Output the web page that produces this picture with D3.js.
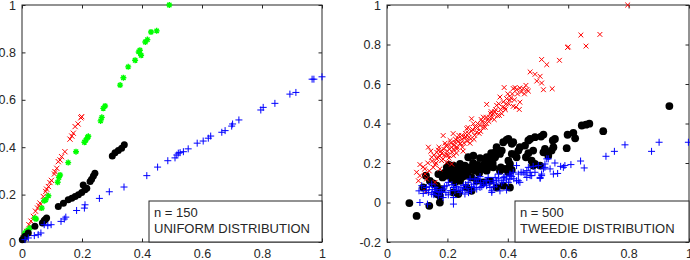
<!DOCTYPE html>
<html>
<head>
<meta charset="utf-8">
<script src="https://cdn.jsdelivr.net/npm/d3@7"></script>
<style>
  body { margin: 0; background: #fff; }
  svg { display: block; }
  text { font-family: "Liberation Sans", Arial, sans-serif; fill: #262626; }
</style>
</head>
<body>
<svg id="chart" width="690" height="260"></svg>
<script>
// ---- tick values ----
const unitTicks = [0, 0.2, 0.4, 0.6, 0.8, 1];
const tweedieYTicks = [-0.2, 0, 0.2, 0.4, 0.6, 0.8, 1];

// ---- legend texts ----
const uniformLegend = ['n = 150', 'UNIFORM DISTRIBUTION'];
const tweedieLegend = ['n = 500', 'TWEEDIE DISTRIBUTION'];

// ---- left panel (uniform, n = 150) ----
const uniformRed = [
  [0.004,0.017],[0.01,0.03],[0.015,0.045],[0.023,0.073],[0.03,0.088],[0.038,0.108],[0.045,0.13],
  [0.052,0.143],[0.057,0.153],[0.06,0.164],[0.071,0.192],[0.079,0.213],[0.082,0.223],[0.088,0.234],
  [0.093,0.251],[0.098,0.26],[0.108,0.287],[0.11,0.297],[0.116,0.311],[0.121,0.339],[0.127,0.346],
  [0.132,0.36],[0.143,0.381],[0.16,0.434],[0.166,0.447],[0.171,0.459],[0.177,0.487],[0.187,0.498],
  [0.196,0.524],[0.199,0.529]
];
const uniformGreen = [
  [0.007,0.027],[0.01,0.038],[0.016,0.045],[0.02,0.05],[0.027,0.059],[0.043,0.101],[0.047,0.097],
  [0.066,0.143],[0.074,0.174],[0.079,0.178],[0.088,0.195],[0.119,0.252],[0.123,0.272],[0.127,0.283],
  [0.154,0.335],[0.18,0.381],[0.208,0.421],[0.213,0.43],[0.218,0.44],[0.221,0.446],[0.262,0.511],
  [0.266,0.526],[0.271,0.564],[0.277,0.574],[0.327,0.662],[0.338,0.693],[0.354,0.739],[0.377,0.767],
  [0.389,0.802],[0.393,0.809],[0.397,0.788],[0.411,0.844],[0.418,0.854],[0.43,0.886],[0.449,0.891],
  [0.491,1.0]
];
const uniformBlack = [
  [0.001,0.01],[0.005,0.015],[0.01,0.024],[0.021,0.038],[0.043,0.066],[0.068,0.08],[0.074,0.091],
  [0.078,0.095],[0.082,0.101],[0.121,0.15],[0.138,0.164],[0.154,0.178],[0.166,0.185],[0.177,0.192],
  [0.188,0.199],[0.199,0.209],[0.204,0.241],[0.21,0.22],[0.216,0.227],[0.227,0.255],[0.232,0.265],
  [0.238,0.279],[0.243,0.29],[0.301,0.363],[0.31,0.377],[0.321,0.386],[0.332,0.396],[0.341,0.41]
];
const uniformBlue = [
  [0.01,0.01],[0.021,0.017],[0.041,0.027],[0.054,0.031],[0.063,0.038],[0.074,0.073],[0.086,0.069],
  [0.097,0.073],[0.13,0.087],[0.141,0.097],[0.146,0.105],[0.182,0.133],[0.208,0.143],[0.21,0.157],
  [0.258,0.184],[0.291,0.212],[0.34,0.232],[0.416,0.28],[0.452,0.316],[0.486,0.343],[0.51,0.355],
  [0.516,0.367],[0.521,0.375],[0.527,0.377],[0.538,0.381],[0.554,0.393],[0.584,0.417],[0.604,0.426],
  [0.621,0.438],[0.629,0.447],[0.666,0.463],[0.677,0.47],[0.699,0.489],[0.702,0.498],[0.723,0.515],
  [0.796,0.557],[0.804,0.568],[0.843,0.585],[0.893,0.624],[0.913,0.631],[0.967,0.687],[0.973,0.687],
  [1.0,0.697]
];

// ---- right panel (tweedie, n = 500) ----
const tweedieRed = [
  [0.098,0.153],[0.104,0.11],[0.109,0.136],[0.109,0.192],[0.12,0.18],[0.125,0.17],[0.126,0.144],
  [0.129,0.056],[0.131,0.119],[0.135,0.2],[0.137,0.28],[0.14,0.16],[0.145,0.26],[0.148,0.229],
  [0.15,0.21],[0.153,0.178],[0.155,0.24],[0.159,0.102],[0.16,0.19],[0.162,0.2],[0.165,0.221],
  [0.165,0.254],[0.168,0.23],[0.17,0.265],[0.172,0.28],[0.175,0.17],[0.175,0.235],[0.178,0.26],
  [0.181,0.212],[0.181,0.249],[0.185,0.22],[0.186,0.339],[0.188,0.27],[0.19,0.24],[0.192,0.3],
  [0.195,0.288],[0.198,0.203],[0.198,0.243],[0.2,0.26],[0.2,0.29],[0.203,0.24],[0.205,0.225],
  [0.207,0.27],[0.209,0.314],[0.212,0.3],[0.214,0.195],[0.214,0.28],[0.216,0.255],[0.219,0.349],
  [0.22,0.237],[0.22,0.27],[0.222,0.29],[0.225,0.305],[0.227,0.32],[0.23,0.25],[0.231,0.271],
  [0.232,0.28],[0.235,0.325],[0.236,0.31],[0.238,0.34],[0.242,0.297],[0.243,0.3],[0.247,0.339],
  [0.248,0.32],[0.25,0.28],[0.252,0.26],[0.255,0.3],[0.257,0.33],[0.26,0.35],[0.262,0.331],
  [0.264,0.373],[0.265,0.31],[0.268,0.38],[0.27,0.35],[0.272,0.33],[0.275,0.3],[0.277,0.322],
  [0.28,0.361],[0.28,0.424],[0.283,0.37],[0.286,0.399],[0.288,0.32],[0.29,0.34],[0.293,0.38],
  [0.297,0.356],[0.3,0.38],[0.3,0.4],[0.305,0.35],[0.308,0.39],[0.31,0.36],[0.312,0.42],
  [0.315,0.41],[0.318,0.38],[0.319,0.432],[0.322,0.4],[0.325,0.381],[0.328,0.43],[0.33,0.4],
  [0.33,0.497],[0.335,0.424],[0.337,0.41],[0.34,0.43],[0.343,0.45],[0.345,0.46],[0.348,0.43],
  [0.352,0.449],[0.355,0.42],[0.357,0.46],[0.36,0.47],[0.363,0.492],[0.366,0.44],[0.37,0.5],
  [0.372,0.441],[0.374,0.534],[0.376,0.47],[0.38,0.45],[0.383,0.483],[0.385,0.51],[0.388,0.582],
  [0.39,0.48],[0.392,0.47],[0.395,0.5],[0.396,0.526],[0.4,0.55],[0.403,0.5],[0.407,0.517],
  [0.41,0.53],[0.415,0.55],[0.418,0.487],[0.418,0.577],[0.422,0.52],[0.424,0.582],[0.427,0.483],
  [0.429,0.571],[0.432,0.55],[0.438,0.471],[0.44,0.508],[0.44,0.58],[0.445,0.56],[0.451,0.577],
  [0.455,0.55],[0.46,0.593],[0.463,0.571],[0.468,0.564],[0.474,0.661],[0.49,0.649],[0.496,0.615],
  [0.507,0.639],[0.512,0.605],[0.512,0.724],[0.518,0.571],[0.529,0.698],[0.547,0.576],[0.571,0.72],
  [0.598,0.785],[0.6,0.788],[0.642,0.848],[0.659,0.792],[0.705,0.851],[0.797,1.0]
];
const tweedieBlack = [
  [0.074,-0.003],[0.098,-0.068],[0.12,0.076],[0.129,0.136],[0.14,-0.017],[0.142,0.11],[0.153,0.097],
  [0.165,0.085],[0.165,0.043],[0.17,0.144],[0.175,0.034],[0.175,0.0],[0.181,0.068],[0.184,0.127],
  [0.19,0.15],[0.198,0.178],[0.198,0.136],[0.205,0.19],[0.209,0.161],[0.214,0.119],[0.215,0.14],
  [0.22,0.187],[0.22,0.051],[0.225,0.102],[0.225,0.17],[0.23,0.12],[0.231,0.17],[0.236,0.144],
  [0.236,0.043],[0.242,0.11],[0.242,0.195],[0.245,0.16],[0.25,0.13],[0.253,0.153],[0.258,0.187],
  [0.26,0.17],[0.264,0.136],[0.264,0.076],[0.269,0.229],[0.27,0.16],[0.275,0.178],[0.28,0.127],
  [0.28,0.059],[0.285,0.2],[0.286,0.237],[0.291,0.161],[0.297,0.178],[0.297,0.11],[0.3,0.19],
  [0.305,0.15],[0.308,0.225],[0.314,0.17],[0.319,0.102],[0.32,0.19],[0.325,0.212],[0.33,0.161],
  [0.33,0.23],[0.335,0.178],[0.341,0.204],[0.341,0.11],[0.345,0.221],[0.345,0.25],[0.35,0.2],
  [0.352,0.178],[0.358,0.229],[0.358,0.254],[0.363,0.28],[0.363,0.076],[0.374,0.246],[0.374,0.161],
  [0.377,0.178],[0.38,0.263],[0.385,0.305],[0.385,0.17],[0.385,0.085],[0.396,0.317],[0.396,0.17],
  [0.402,0.322],[0.402,0.212],[0.402,0.153],[0.407,0.195],[0.407,0.076],[0.413,0.297],[0.413,0.246],
  [0.413,0.165],[0.418,0.305],[0.424,0.243],[0.429,0.229],[0.435,0.263],[0.44,0.28],[0.457,0.288],
  [0.46,0.229],[0.468,0.25],[0.468,0.314],[0.474,0.322],[0.479,0.212],[0.484,0.263],[0.484,0.187],
  [0.49,0.331],[0.49,0.195],[0.507,0.187],[0.51,0.334],[0.518,0.254],[0.518,0.344],[0.523,0.271],
  [0.534,0.237],[0.545,0.263],[0.549,0.314],[0.551,0.28],[0.556,0.322],[0.595,0.275],[0.598,0.343],
  [0.617,0.353],[0.623,0.325],[0.645,0.39],[0.659,0.394],[0.67,0.399],[0.716,0.361],[0.935,0.488]
];
const tweedieBlue = [
  [0.106,0.059],[0.109,0.0],[0.115,0.085],[0.12,0.046],[0.13,0.06],[0.131,0.076],[0.134,-0.008],
  [0.137,0.051],[0.14,0.08],[0.148,0.043],[0.148,0.093],[0.15,0.065],[0.155,0.04],[0.159,0.056],
  [0.159,0.076],[0.165,0.065],[0.17,0.034],[0.175,0.051],[0.18,0.055],[0.186,0.068],[0.186,0.025],
  [0.19,0.08],[0.195,0.05],[0.198,0.085],[0.203,0.102],[0.203,0.039],[0.21,0.06],[0.215,0.09],
  [0.22,0.025],[0.22,0.076],[0.22,-0.008],[0.225,0.06],[0.23,0.08],[0.236,0.068],[0.242,0.051],
  [0.245,0.075],[0.25,0.06],[0.253,0.085],[0.258,0.043],[0.26,0.09],[0.265,0.07],[0.269,0.102],
  [0.27,0.05],[0.275,0.119],[0.28,0.059],[0.28,0.08],[0.286,0.093],[0.291,0.076],[0.291,0.119],
  [0.297,0.068],[0.297,0.102],[0.302,0.119],[0.308,0.131],[0.308,0.076],[0.31,0.1],[0.314,0.08],
  [0.32,0.09],[0.325,0.11],[0.33,0.11],[0.33,0.085],[0.335,0.127],[0.34,0.095],[0.341,0.076],
  [0.347,0.059],[0.347,0.051],[0.352,0.102],[0.352,0.11],[0.355,0.08],[0.358,0.127],[0.363,0.093],
  [0.363,0.11],[0.369,0.144],[0.37,0.12],[0.374,0.059],[0.38,0.1],[0.385,0.127],[0.385,0.11],
  [0.39,0.13],[0.396,0.119],[0.396,0.063],[0.402,0.102],[0.407,0.136],[0.407,0.144],[0.407,0.119],
  [0.413,0.131],[0.418,0.153],[0.42,0.12],[0.429,0.187],[0.429,0.11],[0.435,0.144],[0.435,0.11],
  [0.44,0.102],[0.444,0.153],[0.451,0.153],[0.457,0.144],[0.463,0.161],[0.463,0.127],[0.468,0.178],
  [0.474,0.136],[0.474,0.153],[0.479,0.136],[0.484,0.183],[0.49,0.153],[0.501,0.187],[0.507,0.127],
  [0.507,0.122],[0.512,0.136],[0.512,0.144],[0.518,0.17],[0.523,0.178],[0.523,0.195],[0.529,0.221],
  [0.534,0.221],[0.54,0.17],[0.551,0.144],[0.556,0.2],[0.565,0.147],[0.575,0.183],[0.584,0.178],
  [0.589,0.187],[0.609,0.192],[0.641,0.21],[0.653,0.175],[0.725,0.234],[0.753,0.259],[0.788,0.292],
  [0.876,0.259],[0.901,0.305],[0.998,0.305]
];

const AXIS_COLOR = '#262626';

const markerPaths = {
  cross: (s) => `M${-s},${-s}L${s},${s}M${-s},${s}L${s},${-s}`,
  plus: (s) => `M${-s},0L${s},0M0,${-s}L0,${s}`,
  star: (s) => {
    const d = s * 0.72;
    return `M${-s},0L${s},0M0,${-s}L0,${s}M${-d},${-d}L${d},${d}M${-d},${d}L${d},${-d}`;
  },
};

const svg = d3.select('#chart');

function drawPanel(cfg) {
  const x = d3.scaleLinear().domain([0, 1]).range(cfg.xRange);
  const y = d3.scaleLinear().domain(cfg.yDomain).range([242, 5]);
  const g = svg.append('g');

  // inward ticks on all four sides (MATLAB box style)
  const tick = -3.5;
  g.append('g')
    .attr('transform', `translate(0,${y.range()[0]})`)
    .call(d3.axisBottom(x).tickValues(unitTicks).tickFormat(String)
      .tickSizeInner(tick).tickSizeOuter(0).tickPadding(7));
  g.append('g')
    .attr('transform', `translate(${x.range()[0]},0)`)
    .call(d3.axisLeft(y).tickValues(cfg.yTicks).tickFormat(String)
      .tickSizeInner(tick).tickSizeOuter(0).tickPadding(6));
  g.append('g')
    .attr('transform', `translate(0,${y.range()[1]})`)
    .call(d3.axisTop(x).tickValues(unitTicks).tickFormat('')
      .tickSizeInner(tick).tickSizeOuter(0));
  g.append('g')
    .attr('transform', `translate(${x.range()[1]},0)`)
    .call(d3.axisRight(y).tickValues(cfg.yTicks).tickFormat('')
      .tickSizeInner(tick).tickSizeOuter(0));

  g.selectAll('.domain').remove();
  g.selectAll('.tick line').attr('stroke', AXIS_COLOR);
  g.selectAll('.tick text')
    .attr('fill', '#1a1a1a')
    .attr('font-size', 12.5)
    .attr('font-family', '"Liberation Sans", Arial, sans-serif');

  g.append('rect')
    .attr('x', x.range()[0])
    .attr('y', y.range()[1])
    .attr('width', x.range()[1] - x.range()[0])
    .attr('height', y.range()[0] - y.range()[1])
    .attr('fill', 'none')
    .attr('stroke', AXIS_COLOR);

  cfg.series.forEach((s) => {
    const layer = g.append('g');
    if (s.marker === 'dot') {
      layer.selectAll('circle')
        .data(s.data)
        .join('circle')
        .attr('cx', (d) => x(d[0]))
        .attr('cy', (d) => y(d[1]))
        .attr('r', s.size)
        .attr('fill', s.color);
    } else {
      layer.selectAll('path')
        .data(s.data)
        .join('path')
        .attr('transform', (d) => `translate(${x(d[0])},${y(d[1])})`)
        .attr('d', markerPaths[s.marker](s.size))
        .attr('fill', 'none')
        .attr('stroke', s.color)
        .attr('stroke-width', s.width || 1);
    }
  });

  // legend box in lower right corner
  const lg = g.append('g');
  lg.append('rect')
    .attr('x', cfg.legendX)
    .attr('y', 201)
    .attr('width', x.range()[1] - cfg.legendX)
    .attr('height', y.range()[0] - 201)
    .attr('fill', '#fff')
    .attr('stroke', AXIS_COLOR);
  lg.selectAll('text')
    .data(cfg.legend)
    .join('text')
    .attr('x', cfg.legendX + 5)
    .attr('y', (d, i) => 217 + i * 16)
    .attr('font-size', 13)
    .attr('fill', '#1a1a1a')
    .text((d) => d);
}

drawPanel({
  xRange: [22, 322],
  yDomain: [0, 1],
  yTicks: unitTicks,
  legendX: 149,
  legend: uniformLegend,
  series: [
    { data: uniformRed, color: '#ff0000', marker: 'cross', size: 2.6 },
    { data: uniformGreen, color: '#00ff00', marker: 'star', size: 3, width: 1.4 },
    { data: uniformBlack, color: '#000000', marker: 'dot', size: 3.5 },
    { data: uniformBlue, color: '#0000ff', marker: 'plus', size: 3.5 },
  ],
});

drawPanel({
  xRange: [387, 689],
  yDomain: [-0.2, 1],
  yTicks: tweedieYTicks,
  legendX: 515,
  legend: tweedieLegend,
  series: [
    { data: tweedieBlack, color: '#000000', marker: 'dot', size: 3.9 },
    { data: tweedieRed, color: '#ff0000', marker: 'cross', size: 2.4 },
    { data: tweedieBlue, color: '#0000ff', marker: 'plus', size: 3.5 },
  ],
});
</script>
</body>
</html>
